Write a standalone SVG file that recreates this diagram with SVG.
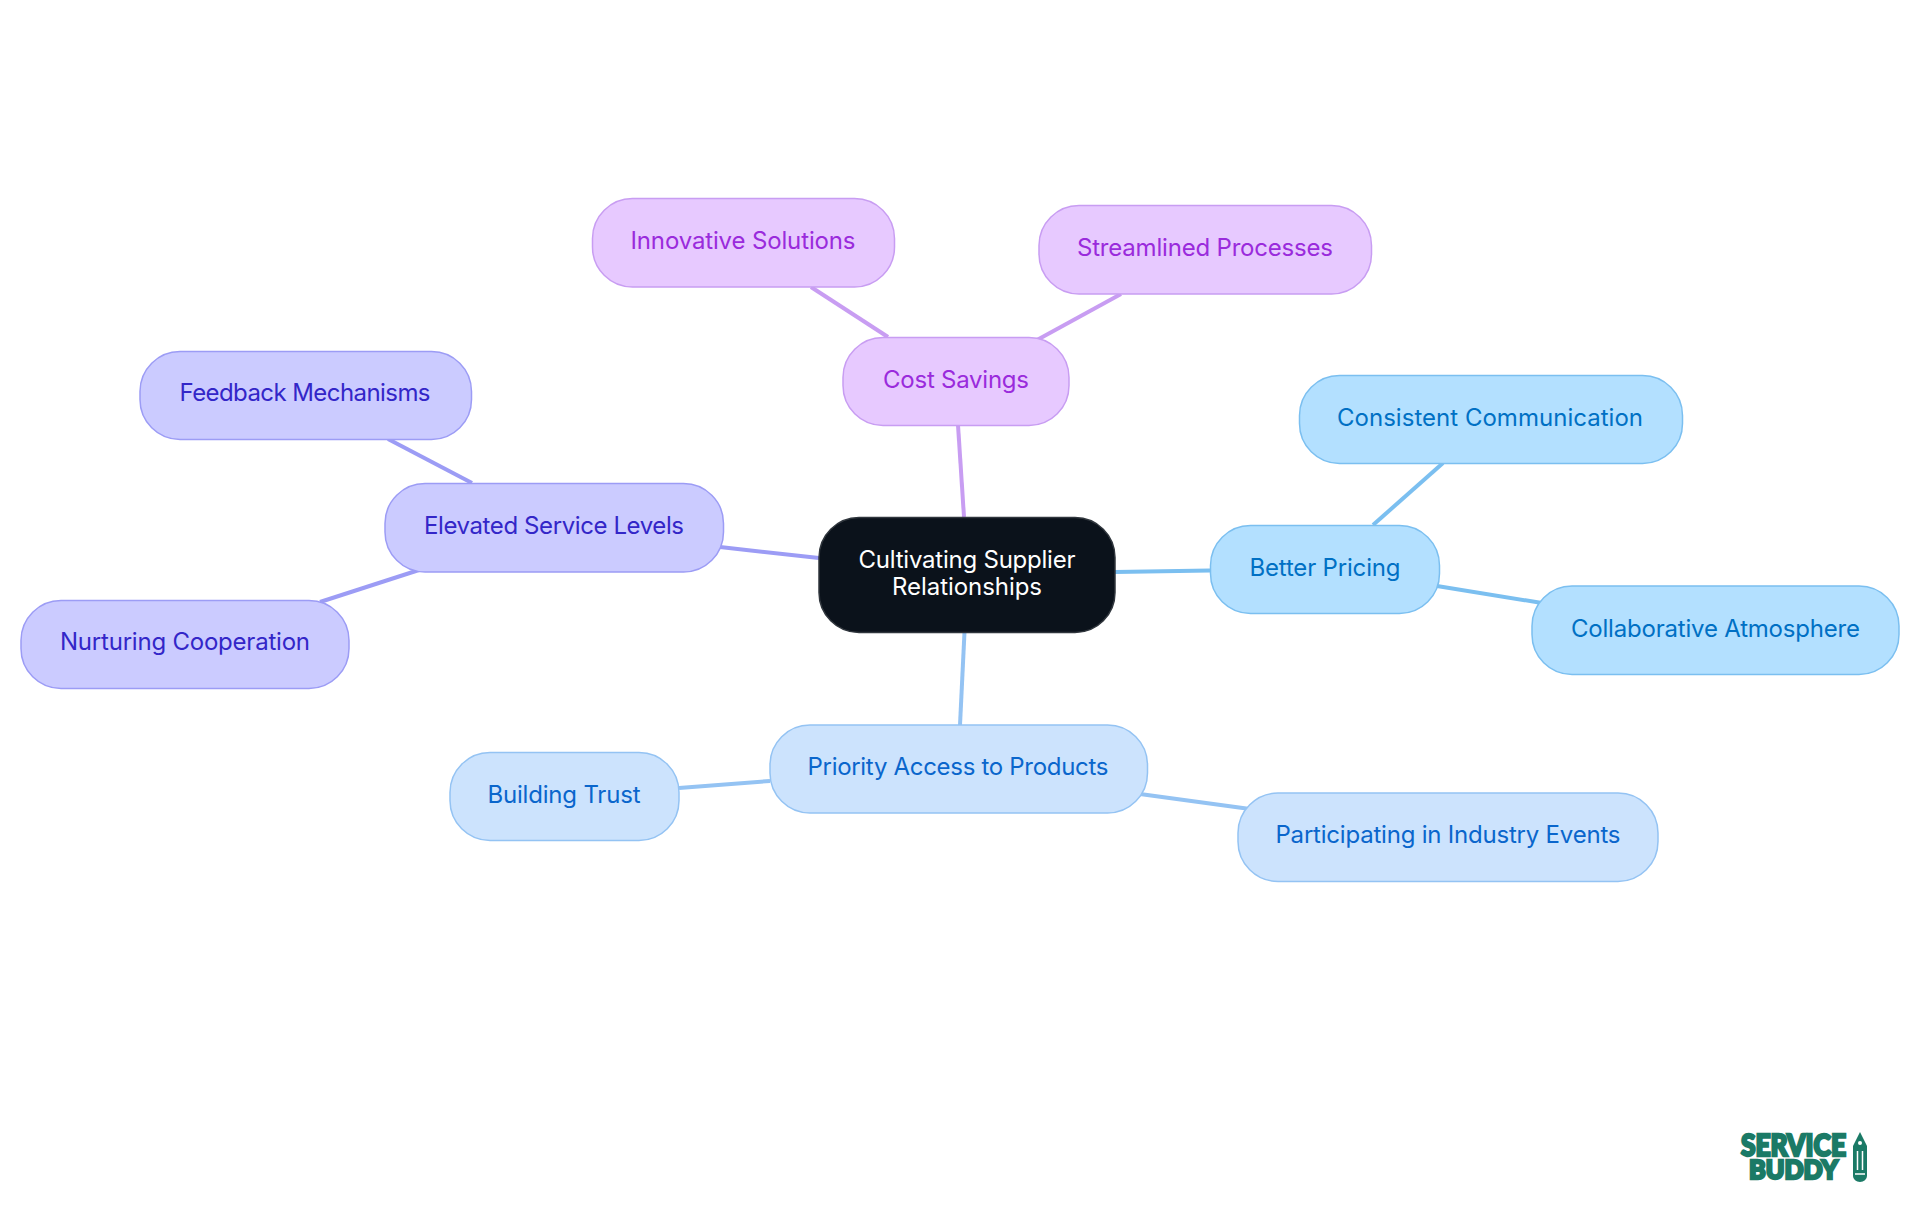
<svg xmlns="http://www.w3.org/2000/svg" width="1920" height="1215" viewBox="0 0 1920 1215">
<style>
text{font-family:"Inter","Noto Sans",sans-serif;font-size:24px;text-anchor:middle;dominant-baseline:central}
.n rect{stroke-width:1.5}
.c line{stroke-width:4;fill:none}
.blue rect{fill:#b3e0ff;stroke:#7bbff0}.blue text{fill:#0070c4}
.pale rect{fill:#cce3fd;stroke:#94c3f3}.pale text{fill:#0a66cc}
.indigo rect{fill:#cbcbff;stroke:#9c9cf5}.indigo text{fill:#3326c8}
.purple rect{fill:#e7c9ff;stroke:#c89df2}.purple text{fill:#9a2bdc}
#logo text{fill:#1b7a66;font-family:"Lato","Liberation Sans",sans-serif;font-weight:900;stroke:#1b7a66;stroke-width:2.5;text-anchor:start;dominant-baseline:alphabetic}
#logo .l1{font-size:30px}
#logo .l2{font-size:26px}
</style>
<rect width="1920" height="1215" fill="#fff"/>
<g id="connectors" class="c">
<line x1="964" y1="517" x2="958" y2="425" stroke="#c89df2"/>
<line x1="888" y1="337" x2="811" y2="287" stroke="#c89df2"/>
<line x1="1037" y1="340" x2="1121" y2="294" stroke="#c89df2"/>
<line x1="819" y1="558" x2="720" y2="547" stroke="#9c9cf5"/>
<line x1="472" y1="483" x2="388" y2="439" stroke="#9c9cf5"/>
<line x1="419" y1="570" x2="320" y2="602" stroke="#9c9cf5"/>
<line x1="1115" y1="572" x2="1210" y2="570.500" stroke="#7bbff0"/>
<line x1="1373" y1="525" x2="1443" y2="463" stroke="#7bbff0"/>
<line x1="1437" y1="586" x2="1542" y2="603" stroke="#7bbff0"/>
<line x1="964.500" y1="632" x2="960" y2="725" stroke="#94c3f3"/>
<line x1="770" y1="781" x2="679" y2="788" stroke="#94c3f3"/>
<line x1="1140" y1="794" x2="1250" y2="809" stroke="#94c3f3"/>
</g>
<g id="root" class="n"><rect x="819" y="517.500" width="296" height="115" rx="40" fill="#0b121b" stroke="#30363d"/><text x="967" y="559" fill="#fff" textLength="217">Cultivating Supplier</text><text x="967" y="586" fill="#fff" textLength="150">Relationships</text></g>
<g id="n-cost" class="n purple"><rect x="843" y="337.500" width="226" height="88" rx="40"/><text x="956" y="379" textLength="146">Cost Savings</text></g>
<g id="n-innov" class="n purple"><rect x="592.500" y="198.500" width="302" height="88.500" rx="40"/><text x="743" y="240" textLength="225">Innovative Solutions</text></g>
<g id="n-stream" class="n purple"><rect x="1039" y="205.500" width="332.500" height="88.500" rx="40"/><text x="1205" y="247" textLength="256">Streamlined Processes</text></g>
<g id="n-elev" class="n indigo"><rect x="385" y="483.500" width="338.500" height="88.500" rx="40"/><text x="554" y="525" textLength="260">Elevated Service Levels</text></g>
<g id="n-feed" class="n indigo"><rect x="140" y="351.500" width="331.500" height="88" rx="40"/><text x="305" y="392" textLength="251">Feedback Mechanisms</text></g>
<g id="n-nurt" class="n indigo"><rect x="21" y="600.500" width="328" height="88" rx="40"/><text x="185" y="641" textLength="250">Nurturing Cooperation</text></g>
<g id="n-price" class="n blue"><rect x="1210.500" y="525.500" width="229" height="88" rx="40"/><text x="1325" y="567" textLength="151">Better Pricing</text></g>
<g id="n-cons" class="n blue"><rect x="1299.500" y="375.500" width="383" height="88" rx="40"/><text x="1490" y="417" textLength="306">Consistent Communication</text></g>
<g id="n-coll" class="n blue"><rect x="1532" y="586" width="367" height="88.500" rx="40"/><text x="1715.500" y="628" textLength="289">Collaborative Atmosphere</text></g>
<g id="n-prio" class="n pale"><rect x="770" y="725" width="377.500" height="88" rx="40"/><text x="958" y="766" textLength="301">Priority Access to Products</text></g>
<g id="n-trust" class="n pale"><rect x="450" y="752.500" width="229" height="88" rx="40"/><text x="564" y="794" textLength="153">Building Trust</text></g>
<g id="n-part" class="n pale"><rect x="1238" y="793" width="420" height="88.500" rx="40"/><text x="1448" y="834" textLength="345">Participating in Industry Events</text></g>
<g id="logo">
<text class="l1" x="1741" y="1156" textLength="105" lengthAdjust="spacingAndGlyphs">SERVICE</text>
<text class="l2" x="1749" y="1179" textLength="89" lengthAdjust="spacingAndGlyphs">BUDDY</text>
<path d="M1860 1132L1867 1146V1176a7 6 0 0 1-14 0V1146Z" fill="#1b7a66"/>
<circle cx="1860" cy="1143" r="2" fill="#fff"/>
<path d="M1857.500 1151V1170M1862.500 1151V1170M1855 1174H1865" stroke="#fff" stroke-width="1.500" fill="none"/>
</g>
</svg>
